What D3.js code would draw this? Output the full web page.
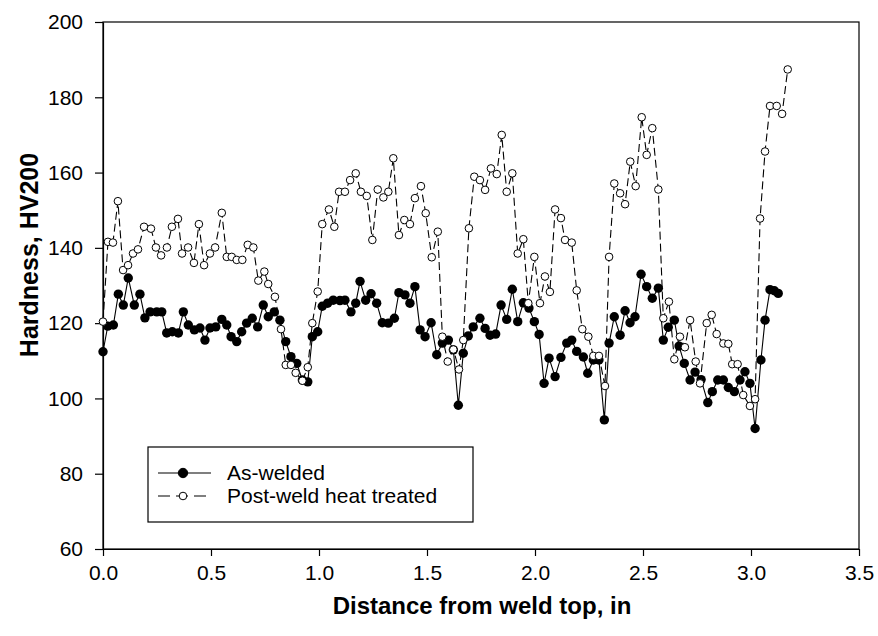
<!DOCTYPE html>
<html>
<head>
<meta charset="utf-8">
<script src="https://cdn.jsdelivr.net/npm/d3@7"></script>
<style>
  body { margin: 0; background: #fff; }
  text { font-family: "Liberation Sans", Arial, sans-serif; }
</style>
</head>
<body>
<div id="wrapper"></div>
<script>
// As-welded (filled circles)
const awDistance = [0.000,0.022,0.048,0.071,0.094,0.117,0.145,0.171,0.194,0.218,0.249,0.272,0.295,0.321,0.349,0.372,0.395,0.423,0.449,0.472,0.495,0.522,
  0.550,0.573,0.593,0.619,0.642,0.665,0.691,0.716,0.742,0.765,0.793,0.819,0.846,0.870,0.897,0.923,0.948,0.969,0.994,1.015,1.040,1.066,
  1.097,1.120,1.148,1.170,1.190,1.216,1.241,1.267,1.293,1.321,1.349,1.370,1.398,1.421,1.444,1.468,1.491,1.519,1.545,1.571,1.599,1.622,1.645,
  1.668,1.691,1.714,1.745,1.769,1.792,1.818,1.843,1.869,1.895,1.920,1.946,1.972,1.997,2.019,2.042,2.065,2.093,2.120,2.147,2.170,2.193,2.224,
  2.244,2.270,2.296,2.321,2.343,2.367,2.394,2.417,2.440,2.463,2.491,2.517,2.543,2.571,2.594,2.617,2.645,2.667,2.691,2.718,2.741,
  2.769,2.800,2.821,2.846,2.872,2.895,2.923,2.949,2.972,2.995,3.019,3.046,3.065,3.088,3.108,3.126];
const awHardness = [112.4,119.2,119.5,127.7,124.8,132,124.8,127.7,121.4,123,123,123,117.4,117.7,117.4,123,119.5,118.2,118.7,115.5,118.7,119,
  121,119.5,116.4,115.1,117.7,120,121.3,119,124.8,121.7,123,120.8,115.1,111.1,109.3,104.9,104.4,116.4,117.7,124.5,125.3,126.1,
  126,126.1,123,125.3,131.1,126.1,127.8,125.3,120.1,120,121.3,128.1,127.5,125.3,129.7,118.2,116.4,120.1,111.6,114.7,115.5,112.9,98.2,
  112,116.6,119,121.3,118.6,116.8,117.1,124.8,121,129,120.4,125.4,124,120.4,117,104,110.7,105.8,110.9,114.7,115.5,112.5,111,
  106.7,110.2,110.2,94.3,114.7,121.7,116.8,123.3,120.1,121.7,133,129.7,126.6,129.3,115.5,118.9,120.8,113.9,109.3,104.9,107,
  105,98.9,101.8,104.9,104.9,102.9,101.8,104.9,107.1,104,92,110.2,120.8,128.9,128.6,127.9];

// Post-weld heat treated (open circles)
const phDistance = [0.000,0.023,0.046,0.069,0.093,0.116,0.139,0.162,0.190,0.222,0.245,0.269,0.296,0.319,0.347,0.366,0.394,0.421,0.444,0.468,0.495,0.519,
  0.550,0.573,0.596,0.619,0.645,0.670,0.696,0.719,0.747,0.765,0.796,0.824,0.846,0.870,0.892,0.923,0.948,0.969,0.994,1.015,1.046,1.071,
  1.093,1.120,1.144,1.170,1.194,1.221,1.247,1.272,1.298,1.321,1.344,1.370,1.395,1.421,1.444,1.472,1.494,1.522,1.550,1.571,1.596,1.622,1.648,
  1.668,1.694,1.719,1.745,1.769,1.796,1.823,1.846,1.869,1.895,1.920,1.946,1.969,1.997,2.023,2.046,2.069,2.093,2.120,2.139,2.170,2.193,2.219,
  2.247,2.270,2.296,2.324,2.343,2.367,2.394,2.417,2.441,2.466,2.494,2.517,2.543,2.571,2.594,2.620,2.645,2.671,2.694,2.718,2.744,
  2.764,2.795,2.818,2.841,2.872,2.895,2.913,2.938,2.964,2.995,3.019,3.042,3.065,3.088,3.119,3.144,3.170];
const phHardness = [120.4,141.6,141.4,152.4,134.1,135.4,138.5,139.6,145.6,145.1,140.1,138,140.1,145.6,147.7,138.5,140.1,136,146.3,135.4,138.5,140.1,
  149.3,137.6,137.6,136.8,136.8,140.8,140.1,131.3,133.7,130.4,127,118.4,108.9,108.9,106.8,104.7,108.3,120,128.4,146.3,150.2,145.6,
  154.9,154.9,158,159.8,154.9,153.8,142.1,155.5,153.4,154.9,163.8,143.4,147.4,146.3,153.2,156.4,149.2,137.5,144.3,116.4,109.8,113,107.7,
  115.5,145.2,158.9,158,155.4,161.1,159.6,170,154.9,159.8,138.5,142.3,125.3,137.6,125.3,132.4,128.3,150.2,147.9,142.1,141.4,128.7,118.4,
  116.4,111.3,111.3,103.3,137.6,157.1,154.5,151.6,162.9,156.4,174.7,164.7,171.8,155.5,121.3,125.7,110.4,116.4,113.6,120.8,109.8,
  104,120,122.2,117.1,114.6,114.5,109.1,109.1,100.9,98,99.8,147.8,165.6,177.7,177.7,175.6,187.4];

const xTicks = [0, 0.5, 1, 1.5, 2, 2.5, 3, 3.5];
const yTicks = [60, 80, 100, 120, 140, 160, 180, 200];
const legendLabels = ["As-welded", "Post-weld heat treated"];

const awData = awDistance.map((d, i) => ({ x: d, y: awHardness[i] }));
const phData = phDistance.map((d, i) => ({ x: d, y: phHardness[i] }));

// Dimension
const dimension = {
  width: 878, height: 636,
  margin: { top: 22, right: 19, bottom: 87, left: 103 }
};
dimension.boundedWidth = dimension.width - dimension.margin.left - dimension.margin.right;
dimension.boundedHeight = dimension.height - dimension.margin.top - dimension.margin.bottom;

// Scales
const xScale = d3.scaleLinear().domain([0, 3.5]).range([0, dimension.boundedWidth]);
const yScale = d3.scaleLinear().domain([60, 200]).range([dimension.boundedHeight, 0]);

// Canvas
const wrapper = d3.select("#wrapper").append("svg")
  .attr("width", dimension.width).attr("height", dimension.height);
const bounded = wrapper.append("g")
  .attr("transform", `translate(${dimension.margin.left},${dimension.margin.top})`);

// Frame
bounded.append("rect")
  .attr("width", dimension.boundedWidth).attr("height", dimension.boundedHeight)
  .attr("fill", "none").attr("stroke", "#000").attr("stroke-width", 1.2);

// Axes
const xAxis = bounded.append("g")
  .attr("transform", `translate(0,${dimension.boundedHeight})`)
  .call(d3.axisBottom(xScale).tickValues(xTicks).tickFormat(d3.format(".1f"))
    .tickSize(7).tickPadding(9).tickSizeOuter(0));
const yAxis = bounded.append("g")
  .call(d3.axisLeft(yScale).tickValues(yTicks).tickSize(8).tickPadding(12).tickSizeOuter(0));
[xAxis, yAxis].forEach(a => {
  a.select(".domain").attr("stroke-width", 1.2);
  a.selectAll(".tick line").attr("stroke-width", 1.2);
  a.selectAll(".tick text").attr("font-size", "21px").attr("fill", "#000")
    .style("font-family", '"Liberation Sans", Arial, sans-serif');
});

// Axis titles
wrapper.append("text")
  .attr("x", 482).attr("y", 614)
  .attr("text-anchor", "middle").attr("font-size", "24px").attr("font-weight", "bold")
  .text("Distance from weld top, in");
wrapper.append("text")
  .attr("transform", "translate(38,255) rotate(-90)")
  .attr("text-anchor", "middle").attr("font-size", "25px").attr("font-weight", "bold")
  .text("Hardness, HV200");

// Lines
const lineGenerator = d3.line().x(d => xScale(d.x)).y(d => yScale(d.y));

bounded.append("path").datum(awData)
  .attr("d", lineGenerator).attr("fill", "none")
  .attr("stroke", "#000").attr("stroke-width", 1.1);
bounded.append("g").selectAll("circle").data(awData).enter().append("circle")
  .attr("cx", d => xScale(d.x)).attr("cy", d => yScale(d.y))
  .attr("r", 4.7).attr("fill", "#000");

bounded.append("path").datum(phData)
  .attr("d", lineGenerator).attr("fill", "none")
  .attr("stroke", "#000").attr("stroke-width", 1.1).attr("stroke-dasharray", "8,4");
bounded.append("g").selectAll("circle").data(phData).enter().append("circle")
  .attr("cx", d => xScale(d.x)).attr("cy", d => yScale(d.y))
  .attr("r", 3.8).attr("fill", "#fff").attr("stroke", "#000").attr("stroke-width", 1);

// Legend
const legend = wrapper.append("g").attr("transform", "translate(148,447)");
legend.append("rect").attr("width", 325).attr("height", 75)
  .attr("fill", "#fff").attr("stroke", "#000").attr("stroke-width", 1.2);
const legendRows = legend.selectAll(".row").data(legendLabels).enter().append("g")
  .attr("transform", (d, i) => `translate(0,${26 + i * 23})`);
legendRows.append("line")
  .attr("x1", 10).attr("x2", 63).attr("stroke", "#000").attr("stroke-width", 1.1)
  .attr("stroke-dasharray", (d, i) => i === 0 ? null : "12,6");
legendRows.append("circle").attr("cx", 35).attr("r", (d, i) => i === 0 ? 4.7 : 3.8)
  .attr("fill", (d, i) => i === 0 ? "#000" : "#fff").attr("stroke", "#000").attr("stroke-width", 1);
legendRows.append("text").attr("x", 79).attr("dy", "0.35em")
  .attr("font-size", "21px").text(d => d);
</script>
</body>
</html>
